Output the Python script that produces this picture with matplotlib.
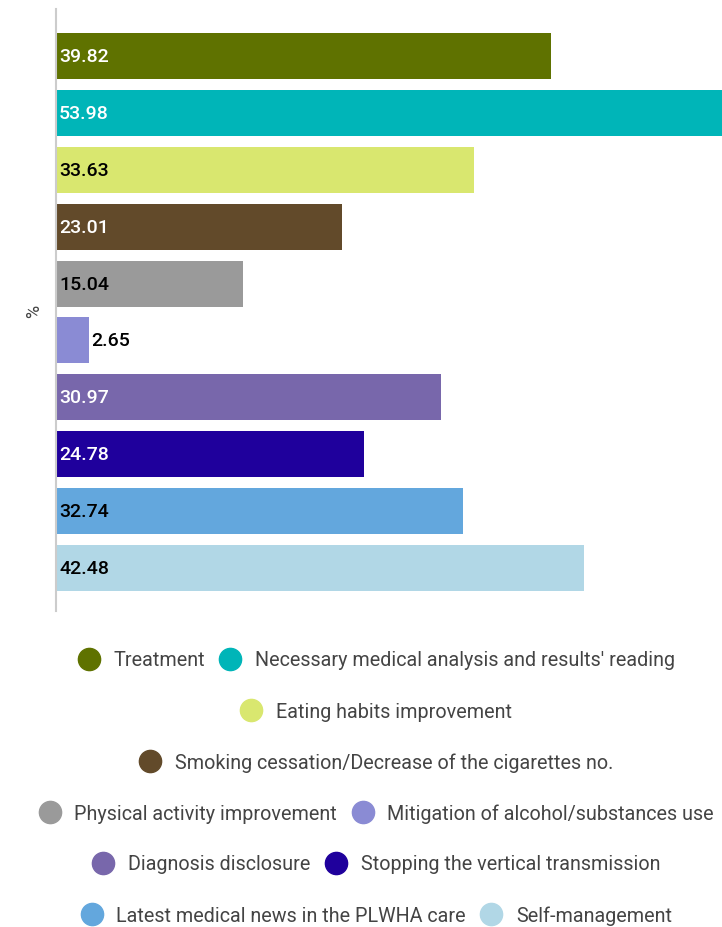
import numpy as np
import matplotlib
matplotlib.use("Agg")
import matplotlib.pyplot as plt
from matplotlib.lines import Line2D

plt.rcParams['font.family'] = ['Roboto', 'DejaVu Sans']

# data
categories = [
    "Treatment",
    "Necessary medical analysis and results' reading",
    "Eating habits improvement",
    "Smoking cessation/Decrease of the cigarettes no.",
    "Physical activity improvement",
    "Mitigation of alcohol/substances use",
    "Diagnosis disclosure",
    "Stopping the vertical transmission",
    "Latest medical news in the PLWHA care",
    "Self-management",
]
values = [39.82, 53.98, 33.63, 23.01, 15.04, 2.65, 30.97, 24.78, 32.74, 42.48]
colors = ["#5f7200", "#00b5b8", "#d9e76f", "#624a2a", "#9a9a9a",
          "#8a8bd4", "#7867ab", "#1f009c", "#63a7dd", "#b1d7e6"]
label_colors = ["white", "white", "black", "white", "black",
                "black", "white", "white", "black", "black"]
legend_rows = [[0, 1], [2], [3], [4, 5], [6, 7], [8, 9]]

fig = plt.figure(figsize=(7.22, 9.28), dpi=100)
ax = fig.add_axes([56 / 722, 1 - 612 / 928, 1 - 56 / 722, (612 - 10) / 928])

y = np.arange(len(values))
bars = ax.barh(y, values, height=0.81, color=colors)

for i, (v, c) in enumerate(zip(values, label_colors)):
    if v < 5:
        ax.annotate(f"{v:.2f}", (v, i), xytext=(1.5, 0), textcoords="offset points",
                    ha="left", va="center", fontsize=14, color=c, fontweight="medium")
    else:
        ax.annotate(f"{v:.2f}", (0, i), xytext=(2.2, 0), textcoords="offset points",
                    ha="left", va="center", fontsize=14, color=c, fontweight="medium")

ax.set_xlim(0, 53.6)
ax.set_ylim(9.765, -0.835)
ax.set_xticks([])
ax.set_yticks([])
for s in ["top", "right", "bottom"]:
    ax.spines[s].set_visible(False)
ax.spines["left"].set_color("#cccccc")
ax.spines["left"].set_linewidth(1.5)
ax.set_ylabel("%", fontsize=13, color="#444444", labelpad=9)

# legend, one row at a time
row_y = [661, 712, 763, 814, 865, 916]
for row, yy in zip(legend_rows, row_y):
    handles = [Line2D([], [], marker="o", linestyle="none", markersize=16,
                      markerfacecolor=colors[i], markeredgecolor=colors[i]) for i in row]
    fig.legend(handles, [categories[i] for i in row], loc="center",
               bbox_to_anchor=(0.522, 1 - yy / 928), ncol=len(row), frameon=False,
               fontsize=14.2, labelcolor="#444444", handlelength=1.0,
               handletextpad=0.75, columnspacing=0.8, borderpad=0, borderaxespad=0)

fig.savefig("out.png", dpi=100)
